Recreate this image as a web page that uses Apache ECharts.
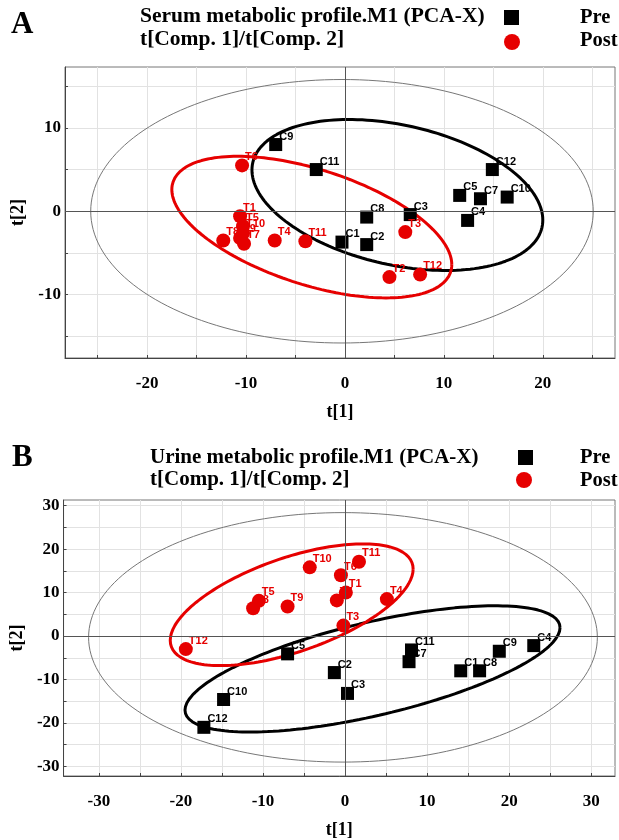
<!DOCTYPE html>
<html lang="en" style="height: 100%">
<head>
  <meta charset="utf-8">
</head>
<body style="height: 100%; margin: 0">
  <div id="container" style="width: 619px; height: 840px"></div>

  <script type="text/javascript" src="https://cdn.jsdelivr.net/npm/echarts@6/dist/echarts.min.js"></script>

  <script type="text/javascript">
    // ---- panel A: serum ----
    var serumPreNames = ['C1', 'C2', 'C3', 'C4', 'C5', 'C7', 'C8', 'C9', 'C10', 'C11', 'C12'];
    var serumPreT1 = [-0.3, 2.2, 6.6, 12.4, 11.6, 13.7, 2.2, -7.0, 16.4, -2.9, 14.9];
    var serumPreT2 = [-3.7, -4.0, -0.4, -1.1, 1.9, 1.5, -0.7, 8.0, 1.7, 5.0, 5.0];

    var serumPostNames = ['T6', 'T1', 'T5', 'T10', 'T9', 'T7', 'T8', 'T4', 'T11', 'T3', 'T2', 'T12'];
    var serumPostT1 = [-10.4, -10.6, -10.3, -10.3, -10.6, -10.2, -12.3, -7.1, -4.0, 6.1, 4.5, 7.6];
    var serumPostT2 = [5.5, -0.6, -1.8, -2.6, -3.2, -3.9, -3.5, -3.5, -3.6, -2.5, -7.9, -7.6];

    // ellipses: [cx, cy, halfWidth, yShiftAtRightTip, halfHeightAtCentre]
    var serumHotelling = [-0.3, 0, 25.4, 0, 15.8];
    var serumPreEllipse = [5.3, 1.95, 14.7, -3.0, 8.54];
    var serumPostEllipse = [-3.35, -1.9, 14.15, -4.5, 7.2];

    var serumXTicks = [-25, -20, -15, -10, -5, 0, 5, 10, 15, 20, 25];
    var serumXLabels = [-20, -10, 0, 10, 20];
    var serumYTicks = [-15, -10, -5, 0, 5, 10, 15];
    var serumYLabels = [-10, 0, 10];

    // ---- panel B: urine ----
    var urinePreNames = ['C2', 'C3', 'C5', 'C7', 'C11', 'C1', 'C8', 'C9', 'C4', 'C10', 'C12'];
    var urinePreT1 = [-1.3, 0.3, -7.0, 7.8, 8.1, 14.1, 16.4, 18.8, 23.0, -14.8, -17.2];
    var urinePreT2 = [-8.4, -13.2, -4.1, -5.9, -3.2, -8.0, -8.0, -3.5, -2.2, -14.6, -21.0];

    var urinePostNames = ['T10', 'T5', 'T8', 'T9', 'T6', 'T11', 'T7', 'T1', 'T4', 'T3', 'T12'];
    var urinePostT1 = [-4.3, -10.5, -11.2, -7.0, -0.5, 1.7, -1.0, 0.1, 5.1, -0.2, -19.4];
    var urinePostT2 = [15.8, 8.1, 6.4, 6.8, 14.0, 17.1, 8.2, 10.0, 8.5, 2.4, -3.0];

    var urineHotelling = [-0.25, -0.3, 31, 0, 28.7];
    var urinePreEllipse = [3.35, -7.56, 22.85, 9.48, 11.0];
    var urinePostEllipse = [-6.5, 7.2, 14.8, 8.2, 11.35];

    var urineXTicks = [-30, -25, -20, -15, -10, -5, 0, 5, 10, 15, 20, 25, 30];
    var urineXLabels = [-30, -20, -10, 0, 10, 20, 30];
    var urineYTicks = [-30, -25, -20, -15, -10, -5, 0, 5, 10, 15, 20, 25, 30];
    var urineYLabels = [-30, -20, -10, 0, 10, 20, 30];

    var RED = '#e60000';
    var SERIF = '"Liberation Serif", "DejaVu Serif", serif';
    var SANS = '"Liberation Sans", Arial, sans-serif';

    function points(xs, ys, names) {
      return xs.map(function (x, i) { return { name: names[i], value: [x, ys[i]] }; });
    }

    function ellipse(p) {
      var pts = [];
      for (var i = 0; i <= 180; i++) {
        var t = i / 180 * Math.PI * 2;
        pts.push([p[0] + p[2] * Math.cos(t), p[1] + p[3] * Math.cos(t) + p[4] * Math.sin(t)]);
      }
      return pts;
    }

    function axisX(idx, min, max, ticks, labels) {
      return {
        type: 'value', gridIndex: idx, min: min, max: max,
        name: 't[1]', nameLocation: 'middle', nameGap: 45,
        nameTextStyle: { fontFamily: SERIF, fontWeight: 'bold', fontSize: 18, color: '#000' },
        axisLine: { show: true, onZero: false, lineStyle: { color: '#444' } },
        axisTick: { show: true, inside: true, length: 3, customValues: ticks, lineStyle: { color: '#444' } },
        axisLabel: { customValues: labels, margin: 17, fontFamily: SERIF, fontWeight: 'bold', fontSize: 17, color: '#000' },
        splitLine: { show: true, lineStyle: { color: '#e2e2e2' } }
      };
    }

    function axisY(idx, min, max, ticks, labels, gap) {
      return {
        type: 'value', gridIndex: idx, min: min, max: max,
        name: 't[2]', nameLocation: 'middle', nameGap: gap,
        nameTextStyle: { fontFamily: SERIF, fontWeight: 'bold', fontSize: 18, color: '#000' },
        axisLine: { show: true, onZero: false, lineStyle: { color: '#444' } },
        axisTick: { show: true, inside: true, length: 3, customValues: ticks, lineStyle: { color: '#444' } },
        axisLabel: { customValues: labels, margin: 4, fontFamily: SERIF, fontWeight: 'bold', fontSize: 17, color: '#000' },
        splitLine: { show: true, lineStyle: { color: '#e2e2e2' } }
      };
    }

    function ellipseSeries(idx, p, color, width) {
      return {
        type: 'line', xAxisIndex: idx, yAxisIndex: idx, data: ellipse(p),
        showSymbol: false, silent: true, z: 1,
        lineStyle: { color: color, width: width }
      };
    }

    function scatterSeries(idx, name, data, symbol, size, color) {
      return {
        name: name, type: 'scatter', xAxisIndex: idx, yAxisIndex: idx,
        symbol: symbol, symbolSize: size, data: data, z: 3,
        itemStyle: { color: color, opacity: 1 },
        label: {
          show: true, formatter: '{b}', position: [10, -7], align: 'left', verticalAlign: 'top',
          color: color, fontFamily: SANS, fontWeight: 'bold', fontSize: 11
        }
      };
    }

    function zeroLines(idx) {
      return {
        type: 'line', xAxisIndex: idx, yAxisIndex: idx, data: [], silent: true,
        markLine: {
          silent: true, symbol: 'none', label: { show: false },
          lineStyle: { color: '#555', width: 1, type: 'solid' },
          data: [{ xAxis: 0 }, { yAxis: 0 }]
        }
      };
    }

    function textEl(x, y, text, size) {
      return { type: 'text', left: x, top: y, style: { text: text, font: 'bold ' + size + 'px ' + SERIF, fill: '#000' } };
    }

    var dom = document.getElementById('container');
    var myChart = echarts.init(dom, null, { renderer: 'canvas' });

    var option = {
      animation: false,
      backgroundColor: '#fff',
      grid: [
        { left: 65, top: 67, width: 550, height: 291, show: true, borderColor: '#777', borderWidth: 1 },
        { left: 63, top: 500, width: 552, height: 282, show: true, borderColor: '#777', borderWidth: 1 }
      ],
      xAxis: [
        axisX(0, -28.3, 27.3, serumXTicks, serumXLabels),
        axisX(1, -34.3, 32.9, urineXTicks, urineXLabels)
      ],
      yAxis: [
        axisY(0, -17.6, 17.3, serumYTicks, serumYLabels, 36),
        axisY(1, -32.2, 31.3, urineYTicks, urineYLabels, 36)
      ],
      graphic: [
        textEl(11, 9, 'A', 31),
        textEl(140, 5, 'Serum metabolic profile.M1 (PCA-X)', 21.5),
        textEl(140, 28, 't[Comp. 1]/t[Comp. 2]', 21.5),
        { type: 'rect', shape: { x: 504, y: 10, width: 15, height: 15 }, style: { fill: '#000' } },
        { type: 'circle', shape: { cx: 512, cy: 42, r: 8 }, style: { fill: RED } },
        textEl(580, 7, 'Pre', 20.5),
        textEl(580, 30, 'Post', 20.5),

        textEl(12, 442, 'B', 31),
        textEl(150, 447, 'Urine metabolic profile.M1 (PCA-X)', 21),
        textEl(150, 469, 't[Comp. 1]/t[Comp. 2]', 21),
        { type: 'rect', shape: { x: 518, y: 450, width: 15, height: 15 }, style: { fill: '#000' } },
        { type: 'circle', shape: { cx: 524, cy: 480, r: 8 }, style: { fill: RED } },
        textEl(580, 447, 'Pre', 20.5),
        textEl(580, 470, 'Post', 20.5)
      ],
      series: [
        zeroLines(0),
        ellipseSeries(0, serumHotelling, '#777', 1),
        ellipseSeries(0, serumPreEllipse, '#000', 3),
        ellipseSeries(0, serumPostEllipse, RED, 3),
        scatterSeries(0, 'Post', points(serumPostT1, serumPostT2, serumPostNames), 'circle', 14, RED),
        scatterSeries(0, 'Pre', points(serumPreT1, serumPreT2, serumPreNames), 'rect', 13, '#000'),

        zeroLines(1),
        ellipseSeries(1, urineHotelling, '#777', 1),
        ellipseSeries(1, urinePreEllipse, '#000', 3),
        ellipseSeries(1, urinePostEllipse, RED, 3),
        scatterSeries(1, 'Post', points(urinePostT1, urinePostT2, urinePostNames), 'circle', 14, RED),
        scatterSeries(1, 'Pre', points(urinePreT1, urinePreT2, urinePreNames), 'rect', 13, '#000')
      ]
    };

    myChart.setOption(option);
    window.addEventListener('resize', myChart.resize);
  </script>
</body>
</html>
